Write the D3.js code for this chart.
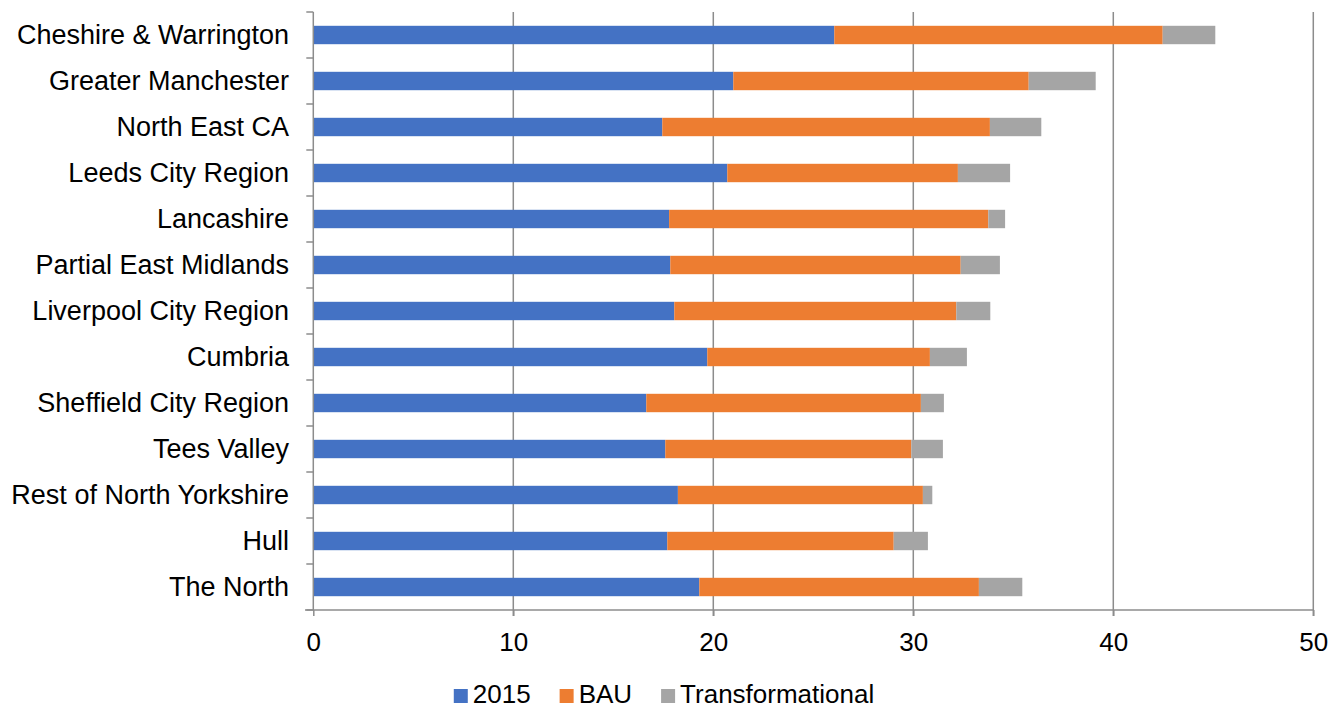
<!DOCTYPE html>
<html>
<head>
<meta charset="utf-8">
<script src="https://cdn.jsdelivr.net/npm/d3@7"></script>
<style>
  html, body { margin: 0; padding: 0; background: #fff; }
  svg { display: block; font-family: "Liberation Sans", Arial, sans-serif; }
</style>
</head>
<body>
<svg id="chart" width="1328" height="709"></svg>
<script>
const categories = [
  "Cheshire & Warrington", "Greater Manchester", "North East CA", "Leeds City Region",
  "Lancashire", "Partial East Midlands", "Liverpool City Region", "Cumbria",
  "Sheffield City Region", "Tees Valley", "Rest of North Yorkshire", "Hull", "The North"
];
const seriesNames = ["2015", "BAU", "Transformational"];
const values2015 = [26.05, 21.0, 17.45, 20.7, 17.79, 17.85, 18.05, 19.7, 16.65, 17.6, 18.23, 17.7, 19.3];
const valuesBAU = [16.42, 14.77, 16.38, 11.53, 15.96, 14.52, 14.1, 11.13, 13.73, 12.3, 12.25, 11.32, 13.98];
const valuesTransformational = [2.63, 3.35, 2.57, 2.61, 0.84, 1.96, 1.7, 1.85, 1.15, 1.58, 0.47, 1.71, 2.17];
const xTicks = [0, 10, 20, 30, 40, 50];
const colors = ["#4472C4", "#ED7D31", "#A5A5A5"];

const svg = d3.select("#chart");
const W = 1328;
const margin = { left: 313.3, top: 12 };
const plotRight = 1313.3, plotBottom = 610;

const x = d3.scaleLinear().domain([0, 50]).range([margin.left, plotRight]);
const y = d3.scaleBand().domain(categories).range([margin.top, plotBottom]).paddingInner(0.6).paddingOuter(0.3);
const yOuter = d3.scaleBand().domain(categories).range([margin.top, plotBottom]);

const table = categories.map((c, i) => ({
  category: c, "2015": values2015[i], "BAU": valuesBAU[i], "Transformational": valuesTransformational[i]
}));
const stacked = d3.stack().keys(seriesNames)(table);

const gridColor = "#8c8c8c";

// vertical gridlines
svg.append("g").selectAll("line").data(xTicks.filter(t => t > 0)).join("line")
  .attr("x1", d => x(d)).attr("x2", d => x(d))
  .attr("y1", margin.top).attr("y2", plotBottom + 6)
  .attr("stroke", gridColor).attr("stroke-width", 1.5);

// bars
svg.append("g").selectAll("g").data(stacked).join("g")
  .attr("fill", (d, i) => colors[i])
  .selectAll("rect").data(d => d).join("rect")
  .attr("x", d => x(d[0]))
  .attr("width", d => x(d[1]) - x(d[0]))
  .attr("y", d => y(d.data.category))
  .attr("height", y.bandwidth());

// x axis
const xAxis = svg.append("g").attr("transform", `translate(0,${plotBottom})`)
  .call(d3.axisBottom(x).tickValues(xTicks).tickSize(6).tickPadding(18).tickSizeOuter(0));
xAxis.select(".domain").remove();
xAxis.selectAll(".tick line").attr("stroke", gridColor).attr("stroke-width", 1.5);
xAxis.selectAll(".tick text").attr("font-size", 26).attr("fill", "#000")
  .attr("font-family", "'Liberation Sans', Arial, sans-serif")
  .attr("dy", "0.71em").attr("y", 23);
svg.append("line").attr("x1", 305).attr("x2", plotRight)
  .attr("y1", plotBottom).attr("y2", plotBottom)
  .attr("stroke", gridColor).attr("stroke-width", 1.5);

// y axis line + boundary ticks
svg.append("line").attr("x1", x(0)).attr("x2", x(0))
  .attr("y1", margin.top).attr("y2", plotBottom)
  .attr("stroke", gridColor).attr("stroke-width", 1.5);
const bounds = categories.map(c => yOuter(c)).concat([plotBottom]);
svg.append("g").selectAll("line").data(bounds).join("line")
  .attr("x1", x(0) - 7).attr("x2", x(0))
  .attr("y1", d => d).attr("y2", d => d)
  .attr("stroke", gridColor).attr("stroke-width", 1.5);

// category labels
svg.append("g").selectAll("text").data(categories).join("text")
  .attr("x", 289)
  .attr("y", d => yOuter(d) + yOuter.bandwidth() / 2)
  .attr("dy", "0.34em")
  .attr("text-anchor", "end")
  .attr("font-size", 27)
  .attr("fill", "#000")
  .text(d => d);

// legend
const legend = svg.append("g");
let cursor = 0;
seriesNames.forEach((name, i) => {
  const g = legend.append("g");
  g.append("rect").attr("x", 0).attr("y", -14).attr("width", 14).attr("height", 14).attr("fill", colors[i]);
  const t = g.append("text").attr("x", 19).attr("y", 0).attr("font-size", 26).attr("fill", "#000").text(name);
  const w = 19 + t.node().getComputedTextLength();
  g.attr("transform", `translate(${cursor},0)`);
  cursor += w + 29;
});
const totalW = cursor - 29;
legend.attr("transform", `translate(${(W - totalW) / 2},703)`);
</script>
</body>
</html>
